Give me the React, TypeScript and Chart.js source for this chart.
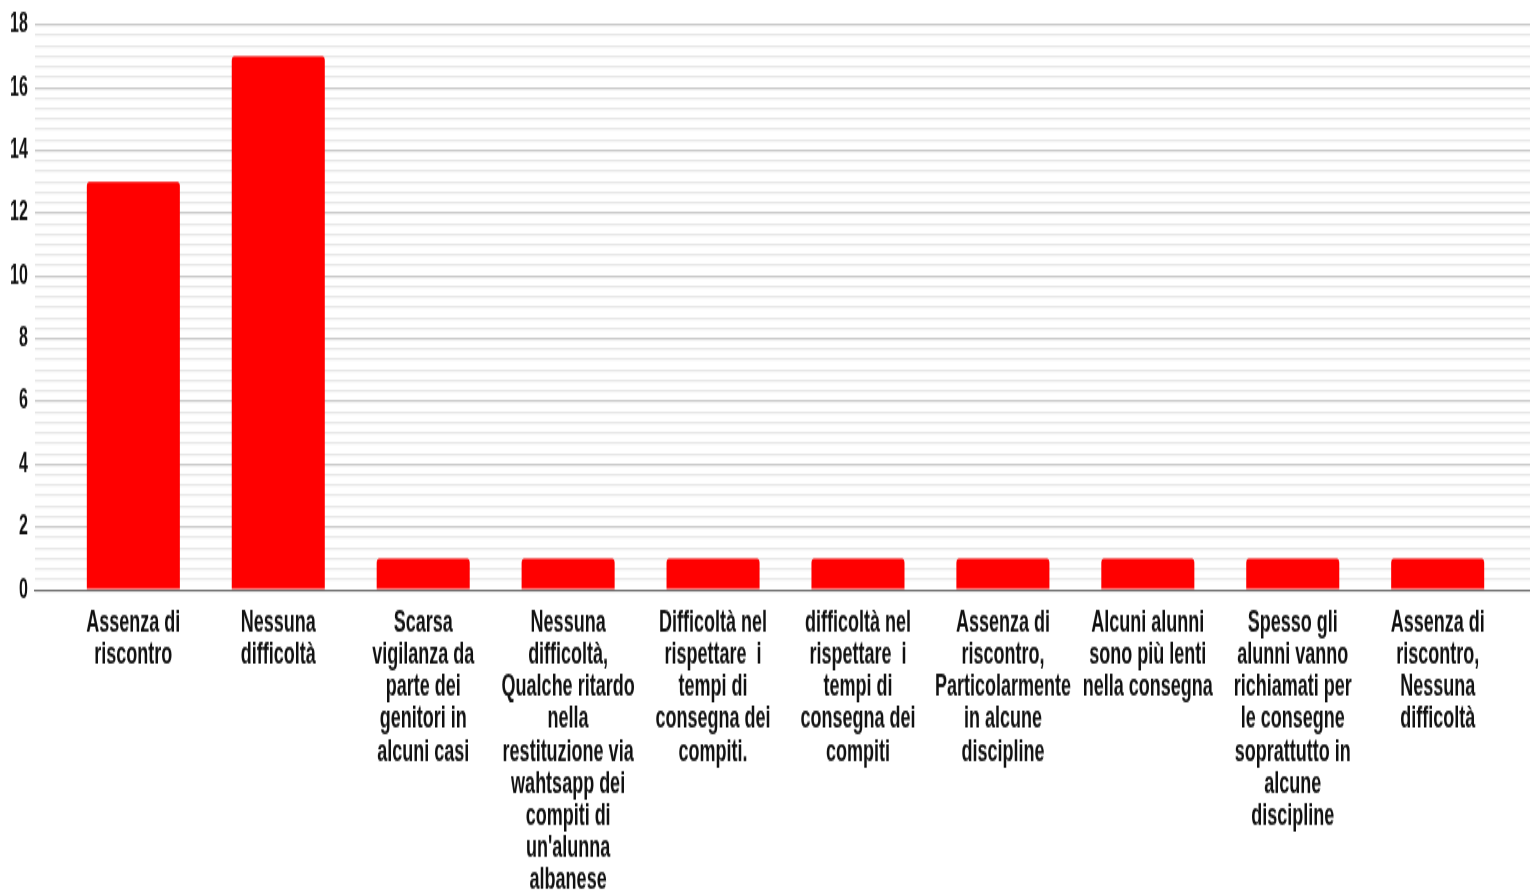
import React, { useEffect, useRef } from "react";
import { Chart, registerables } from "chart.js";

Chart.register(...registerables);

const categories: string[][] = [
  ["Assenza di", "riscontro"],
  ["Nessuna", "difficoltà"],
  ["Scarsa", "vigilanza da", "parte dei", "genitori in", "alcuni casi"],
  ["Nessuna", "difficoltà,", "Qualche ritardo", "nella", "restituzione via", "wahtsapp dei", "compiti di", "un'alunna", "albanese"],
  ["Difficoltà nel", "rispettare  i", "tempi di", "consegna dei", "compiti."],
  ["difficoltà nel", "rispettare  i", "tempi di", "consegna dei", "compiti"],
  ["Assenza di", "riscontro,", "Particolarmente", "in alcune", "discipline"],
  ["Alcuni alunni", "sono più lenti", "nella consegna"],
  ["Spesso gli", "alunni vanno", "richiamati per", "le consegne", "soprattutto in", "alcune", "discipline"],
  ["Assenza di", "riscontro,", "Nessuna", "difficoltà"],
];

const values: number[] = [13, 17, 1, 1, 1, 1, 1, 1, 1, 1];

const yMin = 0;
const yMax = 18;
const yLabelStep = 2;
const yMinorStep = 1 / 3;

const STRETCH = 1.68;
const FONT = "'Liberation Sans', Arial, sans-serif";

function isMajor(v: number): boolean {
  const r = Math.round(v);
  return Math.abs(v - r) < 1e-6 && r % yLabelStep === 0;
}

export default function App() {
  const ref = useRef<HTMLCanvasElement | null>(null);

  useEffect(() => {
    if (!ref.current) return;
    const chart = new Chart(ref.current, {
      type: "bar",
      data: {
        datasets: [
          {
            data: values.map((v, i) => ({ x: i, y: v })),
            backgroundColor: "#ff0000",
            borderWidth: 0,
            borderRadius: 2.5,
            barPercentage: 0.642,
            categoryPercentage: 1,
          },
        ],
      },
      options: {
        animation: false,
        responsive: false,
        maintainAspectRatio: false,
        devicePixelRatio: 1,
        layout: { padding: { left: 3, right: 0, top: 4.1, bottom: 9 } },
        plugins: { legend: { display: false }, tooltip: { enabled: false } },
        scales: {
          x: {
            type: "linear",
            offset: false,
            min: -0.68,
            max: 9.637,
            grid: { display: false, drawTicks: false, offset: false },
            border: { display: true, color: "#6f6f6f", width: 1.1 },
            ticks: {
              stepSize: 1,
              includeBounds: false,
              autoSkip: false,
              maxRotation: 0,
              minRotation: 0,
              padding: 10,
              color: "#111111",
              font: { family: FONT, size: 18, weight: "bold", lineHeight: 1.067 },
              callback: (v: any) => {
                const i = Math.round(Number(v));
                if (Math.abs(Number(v) - i) > 1e-6 || i < 0 || i >= categories.length) return null;
                return categories[i];
              },
            },
          },
          y: {
            min: yMin,
            max: yMax,
            border: { display: false },
            grid: {
              drawTicks: false,
              color: (ctx: any) => (isMajor(ctx.tick.value) ? "#c9c9c9" : "#e7e7e7"),
              lineWidth: 1.2,
            },
            ticks: {
              stepSize: yMinorStep,
              autoSkip: false,
              padding: 7,
              color: "#111111",
              font: { family: FONT, size: 16, weight: "bold", lineHeight: 0.97 },
              callback: (v: any) => (isMajor(Number(v)) ? String(Math.round(Number(v))) : ""),
            },
          },
        },
      },
    });
    return () => chart.destroy();
  }, []);

  return (
    <div style={{ position: "fixed", left: 0, top: 0, width: 1530, height: 892, overflow: "hidden", background: "#fff" }}>
      <div style={{ transform: `scaleY(${STRETCH})`, transformOrigin: "0 0", width: 1530 }}>
        <canvas ref={ref} width={1530} height={553} style={{ display: "block" }} />
      </div>
    </div>
  );
}
